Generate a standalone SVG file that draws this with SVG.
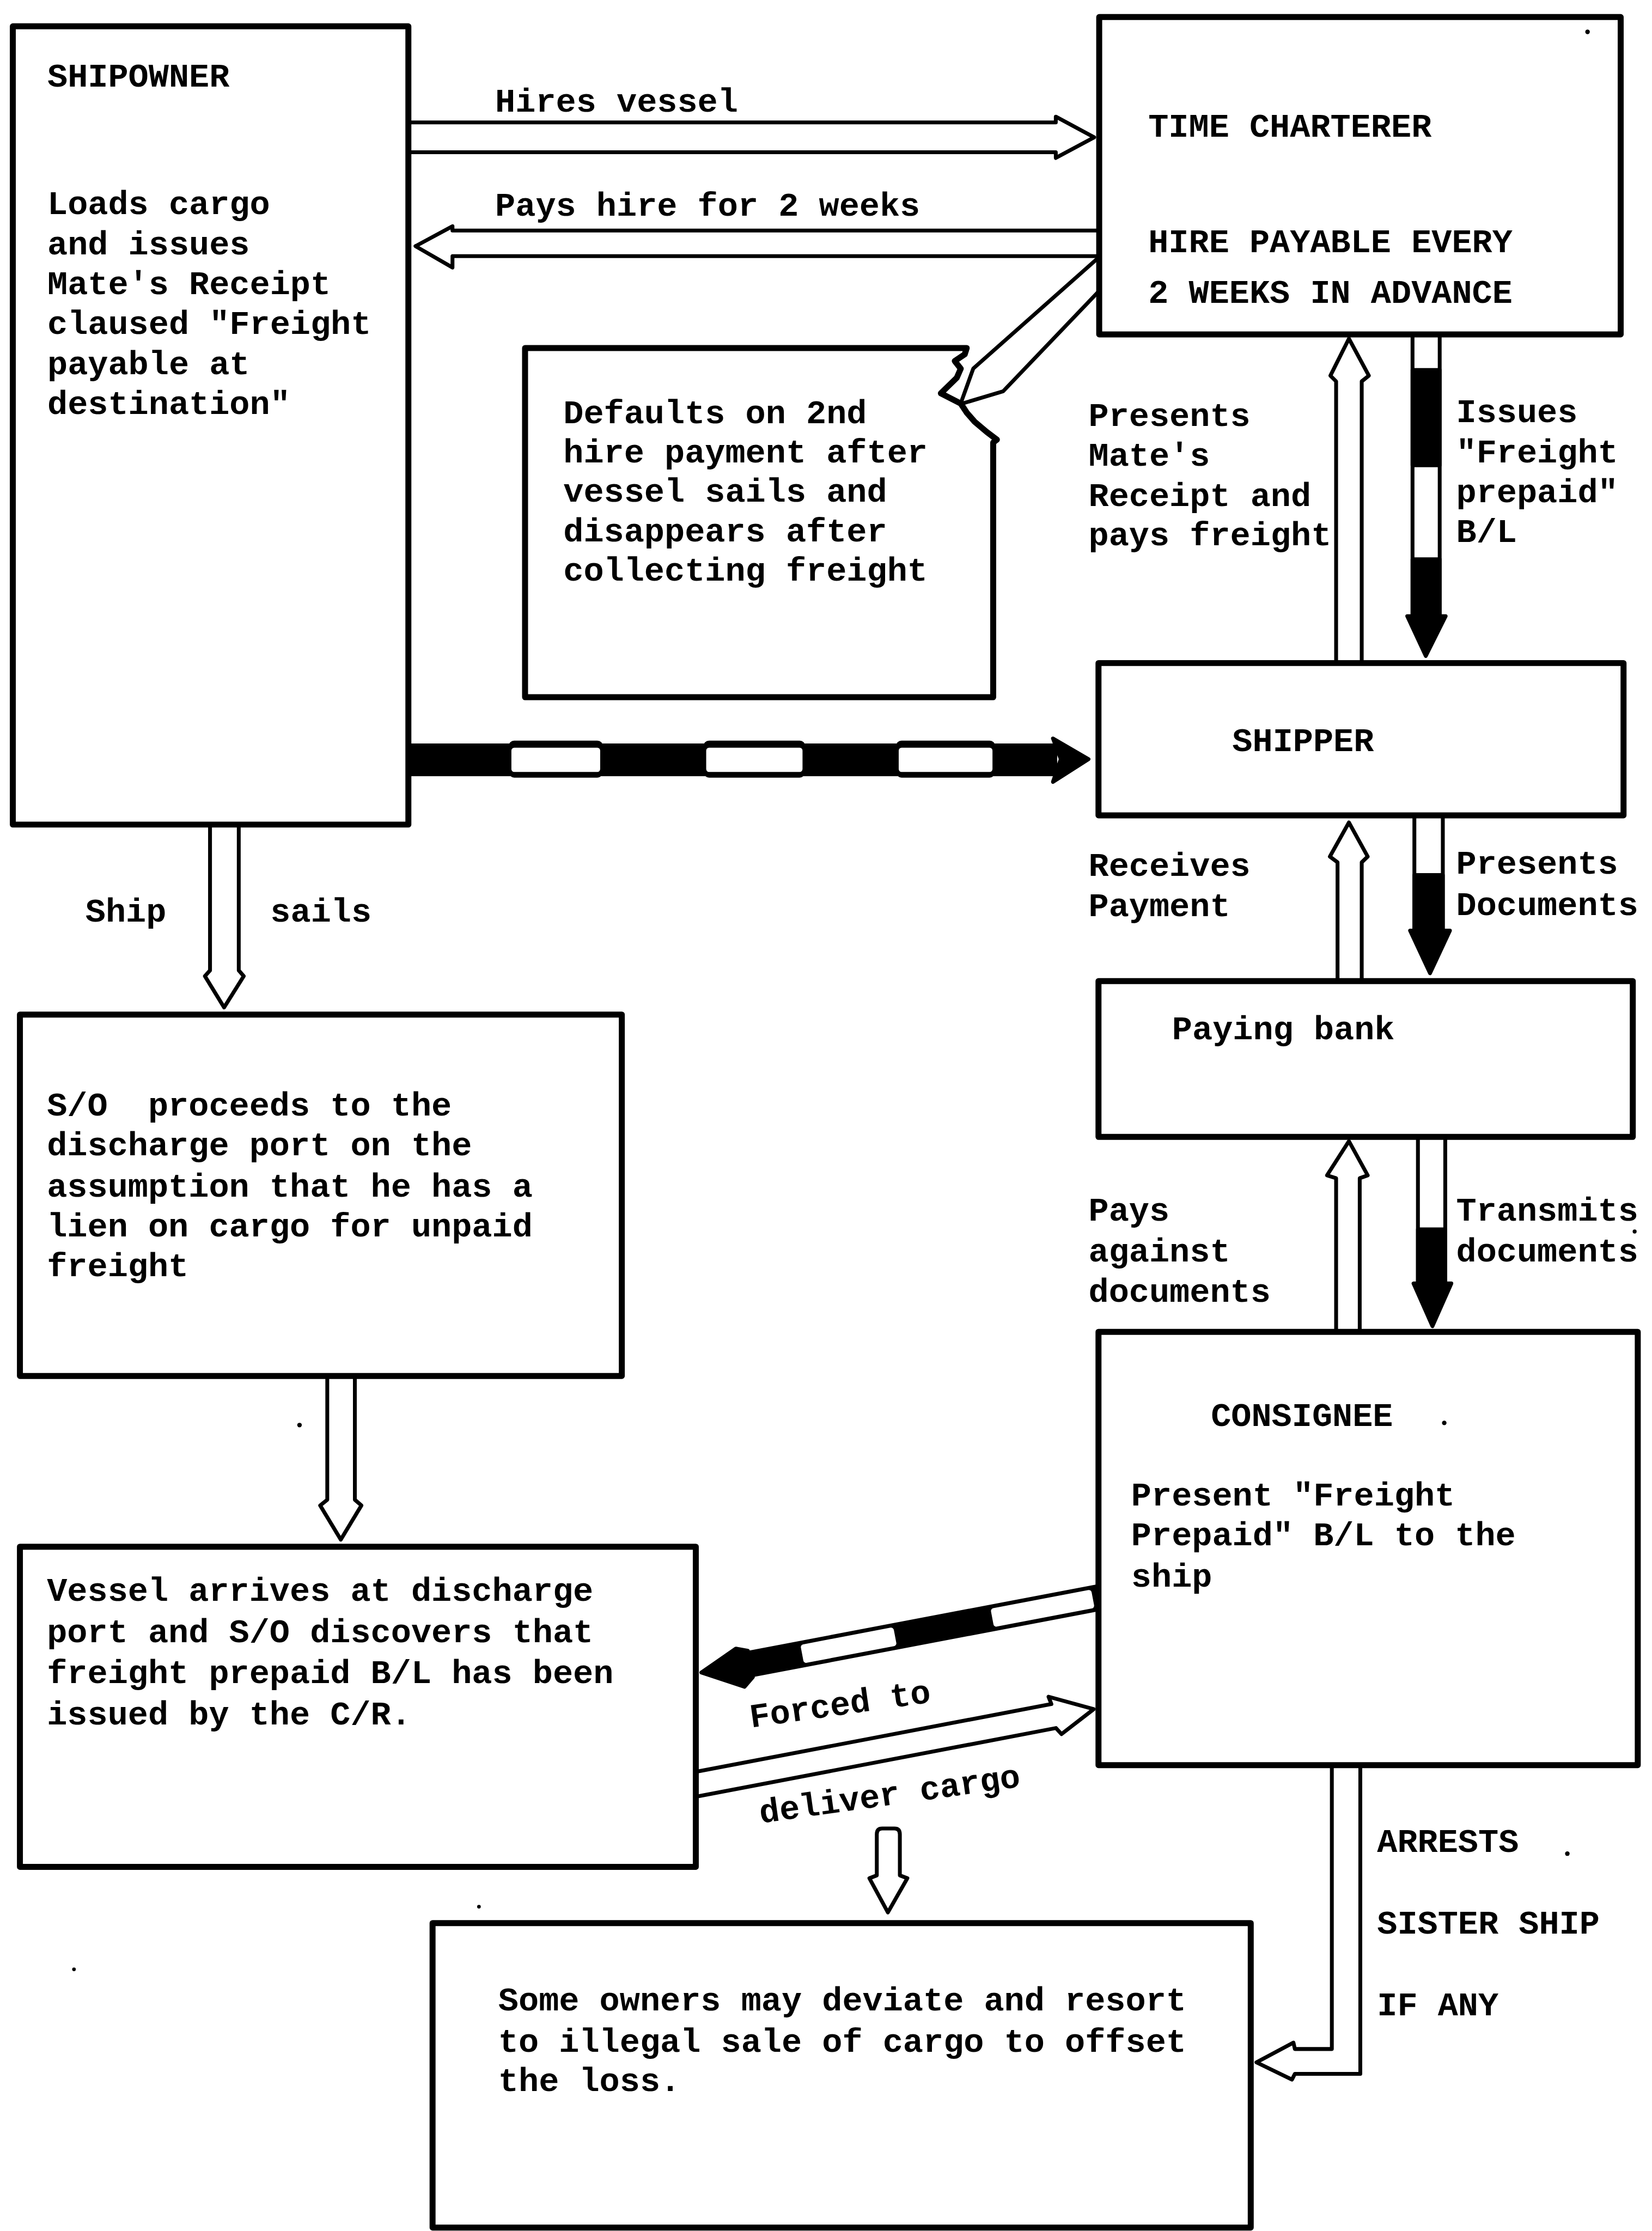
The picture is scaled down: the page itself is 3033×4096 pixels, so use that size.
<svg xmlns="http://www.w3.org/2000/svg" width="3033" height="4096" viewBox="0 0 3033 4096">
<defs>
<style>
.box{fill:#fff;stroke:#000;stroke-width:4.2;stroke-linejoin:round}
.arr{fill:#fff;stroke:#000;stroke-width:2.7;stroke-linejoin:round}
.blk{fill:#000;stroke:#000;stroke-width:2.7;stroke-linejoin:round}
.dot{fill:#000}
text{font-family:"Liberation Mono","Courier New",monospace;font-weight:bold;font-size:23.7px;fill:#000}
</style>
</defs>
<rect width="3033" height="4096" fill="#fff"/>
<g transform="scale(2.6124)">
<g id="connectors">
  <!-- Hires vessel -->
  <polygon class="arr" points="280,86 742,86 742,82 769,96.5 742,111 742,107 280,107"/>
  <text x="348" y="78.5">Hires vessel</text>
  <!-- Pays hire -->
  <polygon class="arr" points="780,162 318,162 318,159 292,173 318,188 318,180 780,180"/>
  <text x="348" y="151.5">Pays hire for 2 weeks</text>
  <!-- Charterer to defaults box -->
  <polygon class="arr" points="780,174 684,259 675,284 705,275 780,196.6"/>
  <!-- Presents Mate's Receipt (up) -->
  <polygon class="arr" points="939,472 939,268 935,264 948,238 962,264 957,268 957,472"/>
  <text x="765" y="299.3">Presents</text>
  <text x="765" y="327.4">Mate's</text>
  <text x="765" y="355.5">Receipt and</text>
  <text x="765" y="383">pays freight</text>
  <!-- Issues Freight prepaid B/L (down, striped) -->
  <rect class="arr" x="992.7" y="230" width="19.1" height="206"/>
  <rect class="blk" x="992.7" y="260" width="19.1" height="67"/>
  <rect class="blk" x="992.7" y="393" width="19.1" height="43"/>
  <polygon class="blk" points="989,433 1016,433 1002,461"/>
  <text x="1023.4" y="296.8">Issues</text>
  <text x="1023.4" y="325">"Freight</text>
  <text x="1023.4" y="353">prepaid"</text>
  <text x="1023.4" y="381">B/L</text>
  <!-- Shipowner to Shipper (striped) -->
  <rect x="280" y="522.5" width="463" height="23" fill="#000"/>
  <rect x="357.4" y="520.5" width="66.4" height="26" rx="4" fill="#000"/>
  <rect x="494.3" y="520.5" width="71.7" height="26" rx="4" fill="#000"/>
  <rect x="629.6" y="520.5" width="69.9" height="26" rx="4" fill="#000"/>
  <rect x="359.4" y="525.5" width="62.4" height="17" rx="2" fill="#fff"/>
  <rect x="496.3" y="525.5" width="67.7" height="17" rx="2" fill="#fff"/>
  <rect x="631.6" y="525.5" width="65.9" height="17" rx="2" fill="#fff"/>
  <polygon class="blk" points="740,519 765,533.5 740,549.5 745.5,533.5"/>
  <!-- Receives Payment (up) -->
  <polygon class="arr" points="940,694 940,606 934.6,602 948,578 961.2,602 957,606 957,694"/>
  <text x="765" y="615.4">Receives</text>
  <text x="765" y="643.9">Payment</text>
  <!-- Presents Documents (down) -->
  <rect class="arr" x="994" y="568" width="20" height="88"/>
  <rect class="blk" x="994" y="615" width="20" height="41"/>
  <polygon class="blk" points="991,654 1019,654 1005,684"/>
  <text x="1023.4" y="614">Presents</text>
  <text x="1023.4" y="643">Documents</text>
  <!-- Pays against documents (up) -->
  <polygon class="arr" points="939,941 939,828 932.6,826 948,802 961.2,826 955.6,828 955.6,941"/>
  <text x="765" y="858">Pays</text>
  <text x="765" y="886.6">against</text>
  <text x="765" y="915">documents</text>
  <!-- Transmits documents (down) -->
  <rect class="arr" x="996.5" y="794" width="19.2" height="110"/>
  <rect class="blk" x="996.5" y="864" width="19.2" height="40"/>
  <polygon class="blk" points="993.4,902 1020,902 1006.7,932"/>
  <text x="1023.4" y="858">Transmits</text>
  <text x="1023.4" y="886.6">documents</text>
  <!-- Ship sails (down) -->
  <polygon class="arr" points="147.6,574 147.6,682 144,686 157.5,708 171.3,686 167.8,682 167.8,574"/>
  <text x="60" y="647.8">Ship</text>
  <text x="190" y="647.8">sails</text>
  <!-- S/O box to Vessel box (down) -->
  <polygon class="arr" points="230,962 230,1054 225,1058 239.5,1082 254,1058 249.4,1054 249.4,962"/>
  <!-- Consignee to Vessel (striped, left) -->
  <g transform="translate(771,1123) rotate(-10.78)">
    <rect x="-252" y="-9.4" width="260" height="18.8" fill="#000"/>
    <rect x="-75" y="-6.6" width="72" height="13.2" rx="2" fill="#fff"/>
    <rect x="-211" y="-6.6" width="66.5" height="13.2" rx="2" fill="#fff"/>
    <polygon class="blk" points="-248,-9.4 -256,-12.5 -283,-0.5 -255,15 -248,9.4"/>
  </g>
  <!-- Vessel to Consignee (hollow, right) -->
  <g transform="translate(491,1253.6) rotate(-10.8)">
    <polygon class="arr" points="-8,-8.6 254,-8.6 253,-14 282.6,0.5 257,13.5 254,8.6 -8,8.6"/>
  </g>
  <text x="528" y="1214.1" transform="rotate(-8 528 1214.1)">Forced to</text>
  <text x="534.7" y="1281.3" transform="rotate(-8 534.7 1281.3)">deliver cargo</text>
  <!-- small down arrow -->
  <path class="arr" d="M616.2,1318 V1289 Q616.2,1285 620,1285 H628.6 Q632.4,1285 632.4,1289 V1318 L637.7,1320 L624,1344 L611,1320 Z"/>
  <!-- Arrests sister ship (L arrow) -->
  <polygon class="arr" points="936,1236 936,1440 910,1440 909,1435.5 883,1449.4 908,1461.5 910,1457.5 956,1457.5 956,1236"/>
  <text x="967.8" y="1301.4">ARRESTS</text>
  <text x="967.8" y="1358.8">SISTER SHIP</text>
  <text x="967.8" y="1416.3">IF ANY</text>
</g>

<g id="shipowner">
  <rect class="box" x="9" y="18.5" width="278" height="561"/>
  <text x="33.3" y="61">SHIPOWNER</text>
  <text x="33.3" y="150.5">Loads cargo</text>
  <text x="33.3" y="178.6">and issues</text>
  <text x="33.3" y="206.7">Mate's Receipt</text>
  <text x="33.3" y="234.8">claused "Freight</text>
  <text x="33.3" y="262.9">payable at</text>
  <text x="33.3" y="291">destination"</text>
</g>

<g id="time-charterer">
  <rect class="box" x="772.5" y="12" width="366.5" height="223"/>
  <text x="807" y="96">TIME CHARTERER</text>
  <text x="807" y="177.3">HIRE PAYABLE EVERY</text>
  <text x="807" y="213">2 WEEKS IN ADVANCE</text>
</g>

<g id="defaults">
  <polygon class="box" points="369,244.6 679.4,244.6 678,249 671,253.7 675.2,259.1 672.4,265.5 661.2,276.4 675.2,283.6 679.4,290 685,296.4 693.5,303.6 700.6,309 698,311 698,490 369,490"/>
  <text x="395.9" y="297.3">Defaults on 2nd</text>
  <text x="395.9" y="325">hire payment after</text>
  <text x="395.9" y="352.7">vessel sails and</text>
  <text x="395.9" y="380.4">disappears after</text>
  <text x="395.9" y="408.1">collecting freight</text>
</g>

<g id="shipper">
  <rect class="box" x="772" y="466" width="369" height="107"/>
  <text x="866" y="528">SHIPPER</text>
</g>

<g id="paying-bank">
  <rect class="box" x="772" y="689.5" width="375.5" height="109.5"/>
  <text x="823.7" y="730.5">Paying bank</text>
</g>

<g id="consignee">
  <rect class="box" x="772" y="936" width="379" height="304.5"/>
  <text x="851" y="1002">CONSIGNEE</text>
  <text x="795" y="1058">Present "Freight</text>
  <text x="795" y="1086">Prepaid" B/L to the</text>
  <text x="795" y="1115">ship</text>
</g>

<g id="so-proceeds">
  <rect class="box" x="14" y="713" width="423" height="254"/>
  <text x="33" y="784" xml:space="preserve">S/O  proceeds to the</text>
  <text x="33" y="812">discharge port on the</text>
  <text x="33" y="841">assumption that he has a</text>
  <text x="33" y="869">lien on cargo for unpaid</text>
  <text x="33" y="897">freight</text>
</g>

<g id="vessel-arrives">
  <rect class="box" x="14" y="1087" width="475" height="225"/>
  <text x="33" y="1125">Vessel arrives at discharge</text>
  <text x="33" y="1154">port and S/O discovers that</text>
  <text x="33" y="1183">freight prepaid B/L has been</text>
  <text x="33" y="1212">issued by the C/R.</text>
</g>

<g id="some-owners">
  <rect class="box" x="304" y="1351.5" width="575" height="214"/>
  <text x="350.2" y="1412.7">Some owners may deviate and resort</text>
  <text x="350.2" y="1441.8">to illegal sale of cargo to offset</text>
  <text x="350.2" y="1469.4">the loss.</text>
</g>

<g id="specks">
  <circle class="dot" cx="1115.7" cy="22.4" r="1.6"/>
  <circle class="dot" cx="1148.8" cy="865.5" r="1.4"/>
  <circle class="dot" cx="1015" cy="1000" r="1.6"/>
  <circle class="dot" cx="210.5" cy="1001.5" r="1.6"/>
  <circle class="dot" cx="1101.5" cy="1302.7" r="1.6"/>
  <circle class="dot" cx="336.6" cy="1340" r="1.3"/>
  <circle class="dot" cx="52" cy="1384" r="1.3"/>
</g>
</g>
</svg>
